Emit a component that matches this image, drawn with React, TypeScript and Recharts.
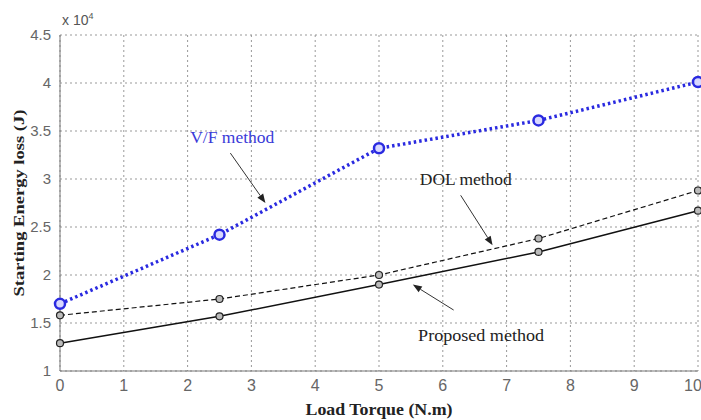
import React from "react";
import {
  LineChart,
  Line,
  XAxis,
  YAxis,
  CartesianGrid,
  ReferenceLine,
  ReferenceDot,
} from "recharts";

// load torque (N.m)
const torque = [0, 2.5, 5, 7.5, 10];
// starting energy loss, x 10^4 J
const vfLoss = [1.7, 2.42, 3.32, 3.61, 4.01];
const dolLoss = [1.58, 1.75, 2.0, 2.38, 2.88];
const proposedLoss = [1.29, 1.57, 1.9, 2.24, 2.67];

const xTicks = [0, 1, 2, 3, 4, 5, 6, 7, 8, 9, 10];
const yTicks = [1, 1.5, 2, 2.5, 3, 3.5, 4, 4.5];

// annotation text and arrows, in data units
const notes = [
  { text: "V/F method", x: 2.7, y: 3.43, color: "#3a3ad8", len: 84 },
  { text: "DOL method", x: 6.36, y: 2.99, color: "#222", len: 92 },
  { text: "Proposed method", x: 6.6, y: 1.37, color: "#222", len: 126 },
];
const arrows = [
  { from: [2.67, 3.27], to: [3.22, 2.75] },
  { from: [6.28, 2.83], to: [6.78, 2.31] },
  { from: [6.17, 1.635], to: [5.53, 1.9] },
];

const data = torque.map((t, i) => ({
  torque: t,
  vf: vfLoss[i],
  dol: dolLoss[i],
  proposed: proposedLoss[i],
}));

const serif = "'Liberation Serif', 'Times New Roman', serif";
const sans = "'Liberation Sans Narrow', 'Liberation Sans', Arial, sans-serif";

const Arrow = (props: any) => {
  const { x1, y1, x2, y2 } = props;
  const ang = Math.atan2(y2 - y1, x2 - x1);
  const len = 9;
  const w = 3.5;
  const bx = x2 - len * Math.cos(ang);
  const by = y2 - len * Math.sin(ang);
  const px = -Math.sin(ang) * w;
  const py = Math.cos(ang) * w;
  return (
    <g>
      <line x1={x1} y1={y1} x2={bx} y2={by} stroke="#333" strokeWidth={1} />
      <polygon
        points={`${x2},${y2} ${bx + px},${by + py} ${bx - px},${by - py}`}
        fill="#222"
      />
    </g>
  );
};

const noteShape = (text: string, color: string, len: number) => (props: any) => (
  <text
    x={props.cx}
    y={props.cy}
    textAnchor="middle"
    dominantBaseline="central"
    fill={color}
    fontFamily={serif}
    fontSize={16}
    textLength={len}
    lengthAdjust="spacingAndGlyphs"
  >
    {text}
  </text>
);

const YLabel = (props: any) => {
  const vb = props.viewBox || {};
  const cy = (vb.y ?? 35) + (vb.height ?? 336) / 2;
  return (
    <text
      x={19}
      y={cy}
      transform={`rotate(-90, 19, ${cy})`}
      textAnchor="middle"
      dominantBaseline="central"
      fill="#222"
      fontFamily={serif}
      fontWeight="bold"
      fontSize={15}
      textLength={187}
      lengthAdjust="spacingAndGlyphs"
    >
      Starting Energy loss (J)
    </text>
  );
};

const XLabel = (props: any) => {
  const vb = props.viewBox || {};
  const cx = (vb.x ?? 60) + (vb.width ?? 638) / 2;
  return (
    <text
      x={cx}
      y={409}
      textAnchor="middle"
      dominantBaseline="central"
      fill="#222"
      fontFamily={serif}
      fontWeight="bold"
      fontSize={17}
      textLength={147}
      lengthAdjust="spacingAndGlyphs"
    >
      Load Torque (N.m)
    </text>
  );
};

const App = () => {
  return (
    <div style={{ position: "absolute", left: 0, top: 0, width: 701, height: 420, background: "#fff" }}>
      <LineChart
        width={701}
        height={420}
        data={data}
        margin={{ top: 35, right: 3, left: 0, bottom: 0 }}
      >
        <CartesianGrid
          stroke="#999"
          strokeDasharray="2 3"
          horizontalValues={yTicks}
          verticalValues={xTicks}
        />
        <XAxis
          dataKey="torque"
          type="number"
          domain={[0, 10]}
          ticks={xTicks}
          height={49}
          stroke="#777"
          tickLine={false}
          tick={{ fill: "#666", fontFamily: sans, fontSize: 16 }}
          tickMargin={3}
          label={<XLabel />}
        />
        <XAxis xAxisId="top" orientation="top" type="number" domain={[0, 10]} tick={false} tickLine={false} height={0} stroke="#777" />
        <YAxis
          type="number"
          domain={[1, 4.5]}
          ticks={yTicks}
          width={60}
          stroke="#777"
          tickLine={false}
          tick={{ fill: "#666", fontFamily: sans, fontSize: 15 }}
          tickMargin={3}
          label={<YLabel />}
        />
        <YAxis yAxisId="right" orientation="right" domain={[1, 4.5]} tick={false} tickLine={false} width={0} stroke="#777" />
        <Line
          dataKey="proposed"
          type="linear"
          stroke="#111"
          strokeWidth={1.5}
          dot={{ r: 3.5, stroke: "#222", strokeWidth: 1.2, fill: "#bbb" }}
          isAnimationActive={false}
        />
        <Line
          dataKey="dol"
          type="linear"
          stroke="#111"
          strokeWidth={1.2}
          strokeDasharray="5 3"
          dot={{ r: 3.5, stroke: "#222", strokeWidth: 1.2, fill: "#bbb", strokeDasharray: "" }}
          isAnimationActive={false}
        />
        <Line
          dataKey="vf"
          type="linear"
          stroke="#2a2ae0"
          strokeWidth={3.5}
          strokeDasharray="2.5 3"
          dot={{ r: 5, stroke: "#2a2ae0", strokeWidth: 2.5, fill: "#d8d8ff", strokeDasharray: "" }}
          isAnimationActive={false}
        />
        {arrows.map((a, i) => (
          <ReferenceLine
            key={"a" + i}
            segment={[
              { x: a.from[0], y: a.from[1] },
              { x: a.to[0], y: a.to[1] },
            ]}
            shape={Arrow}
          />
        ))}
        {notes.map((n, i) => (
          <ReferenceDot
            key={"n" + i}
            x={n.x}
            y={n.y}
            r={0}
            shape={noteShape(n.text, n.color, n.len)}
          />
        ))}
      </LineChart>
      <div
        style={{
          position: "absolute",
          left: 62,
          top: 11,
          fontFamily: sans,
          fontSize: 14,
          color: "#555",
        }}
      >
        x 10<sup style={{ fontSize: 9 }}>4</sup>
      </div>
    </div>
  );
};

export default App;
